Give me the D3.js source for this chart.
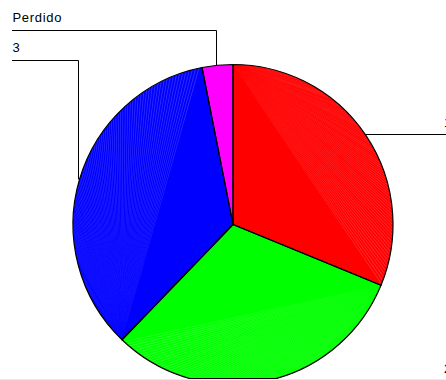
<!DOCTYPE html>
<html>
<head>
<meta charset="utf-8">
<script src="https://cdn.jsdelivr.net/npm/d3@7"></script>
<style>
  html, body { margin: 0; padding: 0; background: #fff; }
  svg { display: block; }
  text { font-family: "Liberation Sans", Arial, sans-serif; font-size: 13px; fill: #000; }
</style>
</head>
<body>
<script>
// Slice categories, clockwise from 12 o'clock
const categories = ["1", "2", "3", "Perdido"];
// Share of each category (percent)
const values = [31.2, 31.0, 34.7, 3.1];
const sliceColors = ["#ff0000", "#00ff00", "#0000ff", "#ff00ff"];

const W = 446, H = 380;
const cx = 233, cy = 224.5, R = 160;
const plotBottom = 379;

const svg = d3.select("body").append("svg")
  .attr("width", W).attr("height", H);

const defs = svg.append("defs");
defs.append("clipPath").attr("id", "plot-clip")
  .append("rect").attr("x", 0).attr("y", 0).attr("width", W).attr("height", plotBottom);

const pie = d3.pie().sort(null).value(d => d);
const arcs = pie(values);
const arc = d3.arc().innerRadius(0).outerRadius(R);

defs.append("clipPath").attr("id", "disc-clip")
  .append("path")
  .attr("transform", `translate(${cx},${cy})`)
  .attr("d", d3.arc().innerRadius(0).outerRadius(R)({startAngle: 0, endAngle: 2 * Math.PI}));

const plot = svg.append("g").attr("clip-path", "url(#plot-clip)");
const g = plot.append("g").attr("transform", `translate(${cx},${cy})`);

// Filled slices
g.selectAll("path.slice").data(arcs).join("path")
  .attr("class", "slice")
  .attr("d", arc)
  .attr("fill", (d, i) => sliceColors[i]);

// Fan shading: thin light wedges from each slice's leading rim point across its segment
const stepRad = 1.2 * Math.PI / 180;
const wedgeRad = 0.35 * Math.PI / 180;
arcs.forEach((d, i) => {
  const a0 = d3.pointRadial(d.startAngle, R);
  const rays = d3.range(d.startAngle + stepRad, d.endAngle - wedgeRad, stepRad);
  g.append("g")
    .selectAll("path").data(rays).join("path")
    .attr("d", a => {
      const p1 = d3.pointRadial(a, R), p2 = d3.pointRadial(a + wedgeRad, R);
      return `M${a0[0]},${a0[1]}L${p1[0]},${p1[1]}L${p2[0]},${p2[1]}Z`;
    })
    .attr("fill", "#ffffff")
    .attr("fill-opacity", 0.2);
});

// Slice outlines
g.selectAll("path.edge").data(arcs).join("path")
  .attr("class", "edge")
  .attr("d", arc)
  .attr("fill", "none")
  .attr("stroke", "#000")
  .attr("stroke-width", 1.2)
  .attr("stroke-linejoin", "round");

// Edge of the plotting area where it cuts the disc
svg.append("line")
  .attr("clip-path", "url(#disc-clip)")
  .attr("x1", 0).attr("x2", W)
  .attr("y1", plotBottom - 0.5).attr("y2", plotBottom - 0.5)
  .attr("stroke", "#000").attr("stroke-width", 1.2);

// Bottom border of the plotting area
svg.append("rect")
  .attr("x", 0).attr("y", plotBottom).attr("width", W).attr("height", 1)
  .attr("fill", "#ebebeb");

// Leader lines and labels
const labels = svg.append("g");
const leftLevels = { "Perdido": 30.5, "3": 60.5 };
arcs.forEach((d, i) => {
  const mid = (d.startAngle + d.endAngle) / 2;
  const p = d3.pointRadial(mid, R);
  const px = cx + p[0], py = cy + p[1];
  const name = categories[i];
  if (p[0] >= 0) {
    const y = Math.round(py) - 0.5;
    labels.append("path")
      .attr("d", `M${px},${y}H${W + 10}`)
      .attr("fill", "none").attr("stroke", "#000").attr("stroke-width", 1);
    labels.append("text")
      .attr("x", 444).attr("y", y - 8)
      .text(name);
  } else {
    const y = leftLevels[name];
    const x = Math.round(px) - 0.5;
    labels.append("path")
      .attr("d", `M${x},${py}V${y}H12`)
      .attr("fill", "none").attr("stroke", "#000").attr("stroke-width", 1);
    labels.append("text")
      .attr("x", 12.5).attr("y", y - 9)
      .attr("letter-spacing", "0.7px")
      .text(name);
  }
});
</script>
</body>
</html>
